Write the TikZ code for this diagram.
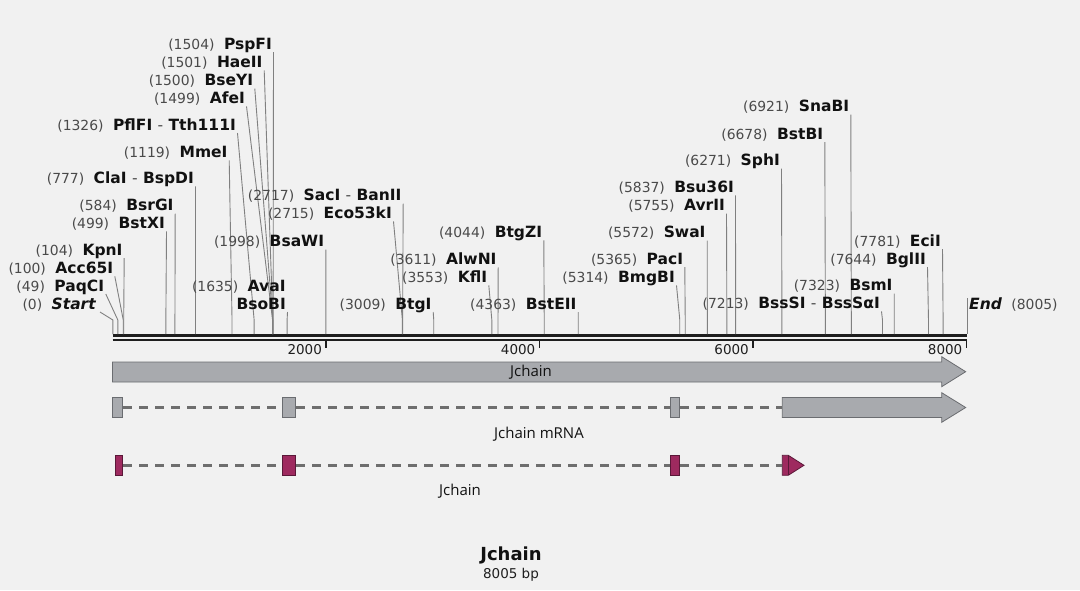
\documentclass[tikz,border=0pt]{standalone}
\usepackage{fontspec}
\setmainfont{DejaVu Sans}
\newfontfamily\osans{Open Sans}
\definecolor{bg}{HTML}{F1F1F1}
\definecolor{numgray}{HTML}{4A4A4A}
\definecolor{nmcol}{HTML}{111111}
\definecolor{leadcol}{HTML}{808080}
\definecolor{axiscol}{HTML}{1E1E1E}
\definecolor{genefill}{HTML}{A8AAAE}
\definecolor{geneedge}{HTML}{6A6C70}
\definecolor{cdsfill}{HTML}{9E2A5F}
\definecolor{cdsedge}{HTML}{5A1838}
\definecolor{dashcol}{HTML}{6E6E6E}
\newcommand{\namef}{\fontsize{15.5}{18}\selectfont\bfseries\color{nmcol}}
\newcommand{\hy}{{\mdseries\color{numgray}-}}
\newcommand{\mylab}[2]{{\color{numgray}(#1)}\hspace{9.5pt}{\namef #2}}
\newcommand{\rsite}[5]{%
  \node[lab] (L#1) at (#3,#4+5) {#5};
  \coordinate (K#1) at ({112.6+#2*0.10673},320);
  \coordinate (S#1) at ({112.6+#2*0.10673},334);
  \draw[leader] ([xshift=1.5pt,yshift=-3pt]L#1.base east) -- (K#1) -- (S#1);
}
\begin{document}
\begin{tikzpicture}[x=1pt,y=-1pt,
  lab/.style={anchor=base east,inner sep=0pt,font=\fontsize{13.9}{16}\selectfont},
  leader/.style={draw=leadcol,line width=0.9pt},
  ticklab/.style={anchor=east,inner sep=0pt,font=\fontsize{13.5}{16}\selectfont,text=axiscol},
  tickmark/.style={draw=axiscol,line width=1.6pt},
  exonm/.style={draw=geneedge,fill=genefill,line width=0.8pt,inner sep=0pt,minimum height=20pt},
  exonc/.style={draw=cdsedge,fill=cdsfill,line width=0.8pt,inner sep=0pt,minimum height=20pt},
  intron/.style={draw=dashcol,line width=3pt,dash pattern=on 9pt off 7pt},
  featlab/.style={inner sep=0pt,font=\osans\fontsize{15}{18}\selectfont,text=nmcol}]
\useasboundingbox[fill=bg] (0,0) rectangle (1080,590);

% axis
\coordinate (A0) at (112.6,335.6);
\coordinate (A1) at (967.3,335.6);
\coordinate (B0) at (112.6,339.9);
\coordinate (B1) at (967.3,339.9);
\draw[axiscol,line width=2.6pt] (A0) -- (A1);
\draw[axiscol,line width=1.5pt] (B0) -- (B1);

% ticks
\foreach \t in {2000,4000,6000,8000}{
  \coordinate (T\t) at ({112.6+\t*0.10673},339.5);
  \coordinate (U\t) at ({112.6+\t*0.10673},347.5);
  \draw[tickmark] (T\t) -- (U\t);
  \node[ticklab] (TL\t) at ({112.6+\t*0.10673-4},350) {\t};
}

% sites
\node[lab] (L0) at (96,309) {{\color{numgray}(0)}\hspace{9.5pt}{\namef\itshape Start}};
\coordinate (K0) at (112.9,320);
\coordinate (S0) at (112.9,334);
\draw[leader] ([xshift=4pt,yshift=-3pt]L0.base east) -- (K0) -- (S0);

\rsite{49}{49}{104.3}{286}{\mylab{49}{PaqCI}}
\rsite{100}{100}{113.3}{268.3}{\mylab{100}{Acc65I}}
\rsite{104}{104}{122.7}{250}{\mylab{104}{KpnI}}
\rsite{499}{499}{165}{223.3}{\mylab{499}{BstXI}}
\rsite{584}{584}{173.7}{205.7}{\mylab{584}{BsrGI}}
\rsite{777}{777}{194}{178.3}{\mylab{777}{ClaI \hy{} BspDI}}
\rsite{1119}{1119}{227.7}{152.3}{\mylab{1119}{MmeI}}
\rsite{1326}{1326}{236}{125}{\mylab{1326}{PflFI \hy{} Tth111I}}
\rsite{1499}{1499}{245}{98.3}{\mylab{1499}{AfeI}}
\rsite{1500}{1500}{253.3}{80.7}{\mylab{1500}{BseYI}}
\rsite{1501}{1501}{262.7}{62.3}{\mylab{1501}{HaeII}}
\rsite{1504}{1504}{272}{44}{\mylab{1504}{PspFI}}
\node[lab] (LAva) at (285.7,291) {\mylab{1635}{AvaI}};
\rsite{1635}{1635}{286}{304}{{\namef BsoBI}}
\rsite{1998}{1998}{324.3}{241.7}{\mylab{1998}{BsaWI}}
\rsite{2717}{2717}{401.7}{195.7}{\mylab{2717}{SacI \hy{} BanII}}
\rsite{2715}{2715}{392}{213.3}{\mylab{2715}{Eco53kI}}
\rsite{3009}{3009}{431.7}{304}{\mylab{3009}{BtgI}}
\rsite{3611}{3611}{496.7}{259.3}{\mylab{3611}{AlwNI}}
\rsite{3553}{3553}{487.3}{277.3}{\mylab{3553}{KflI}}
\rsite{4044}{4044}{542.3}{232.3}{\mylab{4044}{BtgZI}}
\rsite{4363}{4363}{576.7}{304}{\mylab{4363}{BstEII}}
\rsite{5314}{5314}{675}{277.3}{\mylab{5314}{BmgBI}}
\rsite{5365}{5365}{683.3}{259}{\mylab{5365}{PacI}}
\rsite{5572}{5572}{705.7}{232.7}{\mylab{5572}{SwaI}}
\rsite{5755}{5755}{725}{205.7}{\mylab{5755}{AvrII}}
\rsite{5837}{5837}{734}{187.3}{\mylab{5837}{Bsu36I}}
\rsite{6271}{6271}{780}{160.7}{\mylab{6271}{SphI}}
\rsite{6678}{6678}{823.3}{134}{\mylab{6678}{BstBI}}
\rsite{6921}{6921}{849.3}{106.7}{\mylab{6921}{SnaBI}}
\rsite{7213}{7213}{880}{303.3}{\mylab{7213}{BssSI \hy{} BssSαI}}
\rsite{7323}{7323}{892.7}{285.7}{\mylab{7323}{BsmI}}
\rsite{7644}{7644}{926}{259}{\mylab{7644}{BglII}}
\rsite{7781}{7781}{941}{241}{\mylab{7781}{EciI}}

\node[lab,anchor=base west] (LEnd) at (969,309) {{\namef\itshape End}\hspace{9.5pt}{\color{numgray}(8005)}};
\coordinate (S8005) at (967.3,334);
\draw[leader] ([xshift=-1.7pt,yshift=11pt]LEnd.base west) -- (S8005);

% gene arrow
\draw[draw=geneedge,fill=genefill,line width=0.8pt]
  (112.5,362) -- (941.7,362) -- (941.7,356.7) -- (965.7,371.7) -- (941.7,386.7) -- (941.7,382) -- (112.5,382) -- cycle;
\node[featlab] (gname) at (531,372) {Jchain};

% mRNA
\node[exonm,minimum width=10.4pt] (m1) at (117.5,407.5) {};
\node[exonm,minimum width=13.4pt] (m2) at (289,407.5) {};
\node[exonm,minimum width=9.7pt] (m3) at (674.85,407.5) {};
\coordinate (m4) at (782.3,407.5);
\draw[draw=geneedge,fill=genefill,line width=0.8pt]
  (782.3,397.5) -- (941.7,397.5) -- (941.7,392.7) -- (965.7,407.5) -- (941.7,422.3) -- (941.7,417.5) -- (782.3,417.5) -- cycle;
\draw[intron] (m1.east) -- (m2.west);
\draw[intron] (m2.east) -- (m3.west);
\draw[intron] (m3.east) -- (m4);
\node[featlab] (mname) at (539,434) {Jchain mRNA};

% CDS
\node[exonc,minimum width=7.4pt] (c1) at (119,465.3) {};
\node[exonc,minimum width=13.4pt] (c2) at (289,465.3) {};
\node[exonc,minimum width=9.7pt] (c3) at (674.85,465.3) {};
\coordinate (c4) at (782.3,465.3);
\draw[draw=cdsedge,fill=cdsfill,line width=0.8pt]
  (782.3,455.3) -- (788.3,455.3) -- (804,465.3) -- (788.3,475.3) -- (782.3,475.3) -- cycle;
\draw[draw=cdsedge,line width=0.8pt] (788.3,455.3) -- (788.3,475.3);
\draw[intron] (c1.east) -- (c2.west);
\draw[intron] (c2.east) -- (c3.west);
\draw[intron] (c3.east) -- (c4);
\node[featlab] (cname) at (460,491) {Jchain};

% title
\node[inner sep=0pt,font=\bfseries\fontsize{18}{20}\selectfont,text=nmcol] (title) at (511,555) {Jchain};
\node[inner sep=0pt,font=\fontsize{13.5}{16}\selectfont,text=axiscol] (bp) at (511,575) {8005 bp};
\end{tikzpicture}
\end{document}
